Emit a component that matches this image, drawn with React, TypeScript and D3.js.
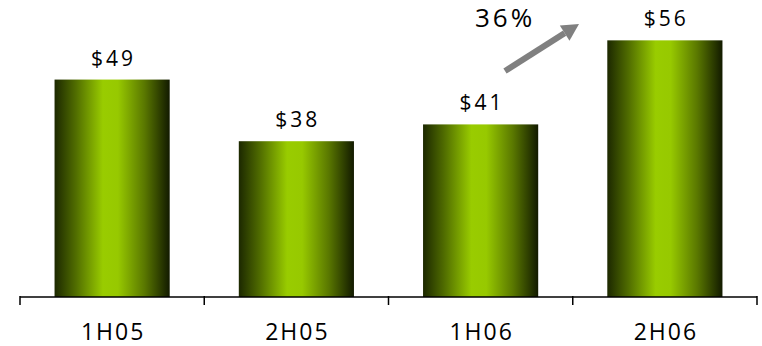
import React from "react";
import * as d3 from "d3";

const categories = ["1H05", "2H05", "1H06", "2H06"];
const values = [49, 38, 41, 56];
const valueLabels = ["$49", "$38", "$41", "$56"];
const growthLabel = "36%";

const W = 762;
const H = 346;

export default function App() {
  const x = d3.scaleBand<string>().domain(categories).range([20, 757]).paddingInner(0.375).paddingOuter(0.1875);
  const xAxis = d3.scaleBand<string>().domain(categories).range([20, 757]);
  const y = d3.scaleLinear().domain([10.2, 63.2]).range([297, 0]);
  const tickXs = [0, 1, 2, 3, 4].map((i) => 20 + i * xAxis.step());
  const font = "'Open Sans', 'Noto Sans', sans-serif";
  const arrow = { x1: 505, y1: 71, x2: 579, y2: 24 };
  const ang = Math.atan2(arrow.y2 - arrow.y1, arrow.x2 - arrow.x1);
  const headLen = 17;
  const headHalf = 9;
  const bx = arrow.x2 - headLen * Math.cos(ang);
  const by = arrow.y2 - headLen * Math.sin(ang);
  const px = -Math.sin(ang);
  const py = Math.cos(ang);
  const vls = 3;
  const cls = 2;
  return (
    <svg width={W} height={H} style={{ position: "absolute", left: 0, top: 0 }}>
      <defs>
        <linearGradient id="barGrad" x1="0" x2="1" y1="0" y2="0">
          <stop offset="0" stopColor="#1c2800" />
          <stop offset="0.18" stopColor="#4f6b00" />
          <stop offset="0.42" stopColor="#99cc00" />
          <stop offset="0.55" stopColor="#97c900" />
          <stop offset="0.78" stopColor="#5a7800" />
          <stop offset="1" stopColor="#121a00" />
        </linearGradient>
      </defs>
      {categories.map((c, i) => (
        <rect key={c} x={x(c)} y={y(values[i])} width={x.bandwidth()} height={297 - y(values[i])} fill="url(#barGrad)" />
      ))}
      {categories.map((c, i) => (
        <text key={"v" + c} x={(x(c) as number) + x.bandwidth() / 2 + vls / 2} y={y(values[i]) - 14} textAnchor="middle"
          fontFamily={font} fontSize={21} letterSpacing={vls} fill="#000">
          {valueLabels[i]}
        </text>
      ))}
      <line x1={20} x2={757} y1={297} y2={297} stroke="#000" strokeWidth={1.5} />
      {tickXs.map((tx, i) => (
        <line key={"t" + i} x1={tx} x2={tx} y1={296} y2={305} stroke="#000" strokeWidth={1.5} />
      ))}
      {categories.map((c) => (
        <text key={"c" + c} x={(xAxis(c) as number) + xAxis.bandwidth() / 2 + cls / 2} y={340} textAnchor="middle"
          fontFamily={font} fontSize={23} letterSpacing={cls} fill="#000">
          {c}
        </text>
      ))}
      <line x1={arrow.x1} y1={arrow.y1} x2={bx} y2={by} stroke="#808080" strokeWidth={6} />
      <polygon
        points={`${arrow.x2},${arrow.y2} ${bx + px * headHalf},${by + py * headHalf} ${bx - px * headHalf},${by - py * headHalf}`}
        fill="#808080"
      />
      <text x={475} y={27} fontFamily={font} fontSize={26} letterSpacing={3} fill="#000">
        {growthLabel}
      </text>
    </svg>
  );
}
